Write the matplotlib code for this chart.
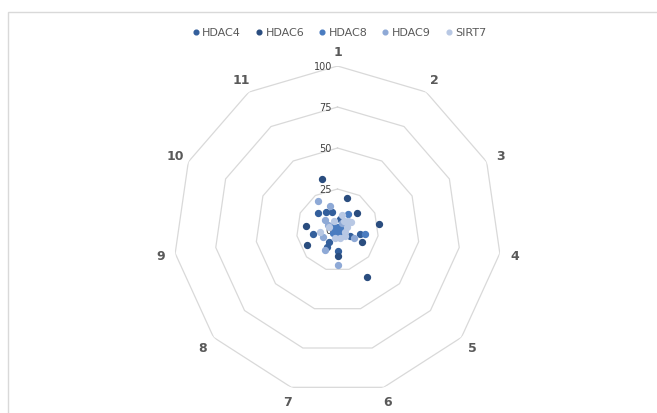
import numpy as np
import matplotlib
matplotlib.use('Agg')
from matplotlib import pyplot as plt
from matplotlib.patches import Rectangle

categories = ['1', '2', '3', '4', '5', '6', '7', '8', '9', '10', '11']
levels = [0, 25, 50, 75, 100]
series = ['HDAC4', 'HDAC6', 'HDAC8', 'HDAC9', 'SIRT7']
colors = ['#335f9c', '#2a4d7f', '#4a7cc0', '#8ea9d6', '#b8c8e4']

# angle (deg, clockwise from category 1) and value for each point
hdac4_ang = [311, 326, 343, 13, 48, 261.5, 99, 117.5, 215, 180, 212.5]
hdac4_val = [15.5, 13.0, 11.3, 6.9, 1.5, 15.1, 13.9, 8.4, 8.7, 13.0, 12.3]
hdac6_ang = [343, 82, 147.7, 277, 244.6, 16.4, 49.4, 115.8, 180]
hdac6_val = [32.4, 25.5, 33.7, 19.6, 20.8, 20.6, 15.9, 16.8, 15.7]
hdac8_ang = [33, 316, 17, 292, 85, 238, 200, 99, 150, 60]
hdac8_val = [11.4, 3.7, 1.7, 1.6, 2.5, 3.5, 1.5, 17.0, 2.0, 3.0]
hdac9_ang = [327, 343, 309, 245, 116, 213, 180, 300, 30]
hdac9_val = [21.4, 15.1, 10.0, 9.6, 11.2, 14.3, 21.1, 6.5, 5.0]
sirt7_ang = [15, 49, 70, 287, 262, 102, 163, 197, 35, 60, 340, 130]
sirt7_val = [9.7, 8.7, 6.0, 5.4, 10.8, 4.9, 5.3, 5.3, 6.5, 9.5, 6.0, 6.0]

angles = [hdac4_ang, hdac6_ang, hdac8_ang, hdac9_ang, sirt7_ang]
values = [hdac4_val, hdac6_val, hdac8_val, hdac9_val, sirt7_val]

fig = plt.figure(figsize=(6.57, 4.14), dpi=100)
fig.patches.append(Rectangle((8 / 657, -0.1), 1.1, 1.1 - 13 / 414,
                             transform=fig.transFigure, fill=False,
                             edgecolor='#d9d9d9', lw=1))

ax = fig.add_axes([0.2641, 0.0459, 0.4992, 0.7923], projection='polar')
ax.set_theta_zero_location('N')
ax.set_theta_direction(-1)
ax.set_ylim(0, 100)
ax.grid(False)
ax.spines['polar'].set_visible(False)
ax.set_xticks([])
ax.set_yticks([])
ax.patch.set_alpha(0)

n = len(categories)
spokes = np.linspace(0, 2 * np.pi, n + 1)
for lv in levels[1:]:
    ax.plot(spokes, [lv] * (n + 1), color='#d9d9d9', lw=0.9, zorder=1)
for lv in levels:
    ax.annotate(str(lv), xy=(0, lv), xytext=(-4, 0), textcoords='offset points',
                ha='right', va='center', fontsize=7, color='#404040')
for i, c in enumerate(categories):
    ax.text(spokes[i], 109, c, ha='center', va='center', fontsize=9,
            fontweight='bold', color='#595959')

for name, ang, val, col in zip(series, angles, values, colors):
    ax.scatter(np.radians(ang), val, s=18, color=col, label=name, zorder=3)

fig.legend(loc='center', bbox_to_anchor=(0.515, 0.92), ncol=5, frameon=False,
           fontsize=8, handletextpad=0.1, columnspacing=1.1, markerscale=0.8,
           labelcolor='#595959', handlelength=1.0)

plt.savefig('out.png', dpi=100)
